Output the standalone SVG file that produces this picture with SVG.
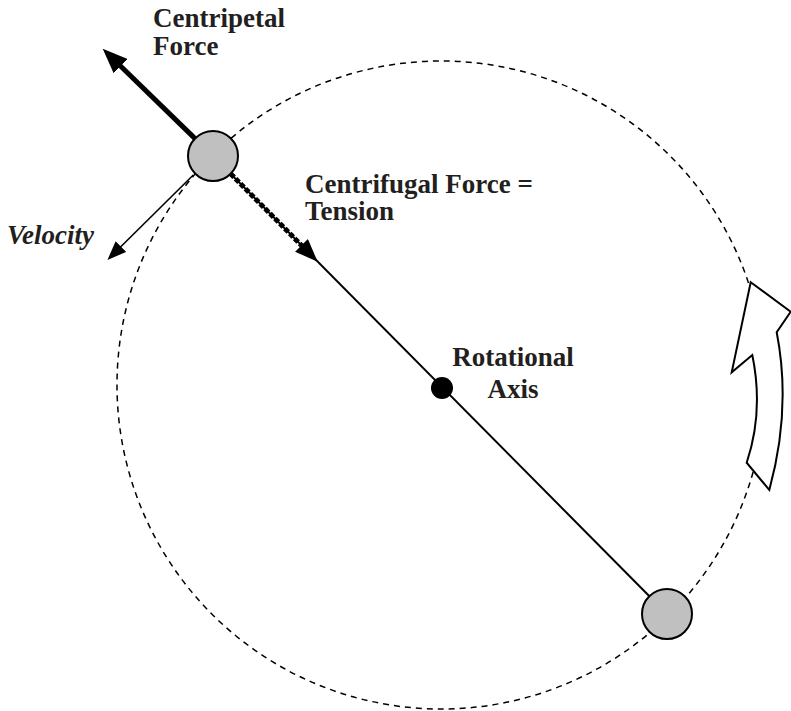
<svg xmlns="http://www.w3.org/2000/svg" width="791" height="711" viewBox="0 0 791 711">
<style>
.lbl{font-family:"Liberation Serif","Times New Roman",serif;font-size:27px;font-weight:bold;fill:#231f20}
.it{font-style:italic}
.ball{fill:#c0c0c0;stroke:#000;stroke-width:2}
</style>
<defs>
<marker id="headBig" viewBox="0 0 25 20" markerWidth="25" markerHeight="20" refX="2" refY="10" orient="auto" markerUnits="userSpaceOnUse">
<path d="M0,0 L25,10 L0,20 Z" fill="#000"/>
</marker>
<marker id="headMid" viewBox="0 0 23 18" markerWidth="23" markerHeight="18" refX="2" refY="9" orient="auto" markerUnits="userSpaceOnUse">
<path d="M0,0 L23,9 L0,18 Z" fill="#000"/>
</marker>
<marker id="headSmall" viewBox="0 0 19 15" markerWidth="19" markerHeight="15" refX="2" refY="7.5" orient="auto" markerUnits="userSpaceOnUse">
<path d="M0,0 L19,7.5 L0,15 Z" fill="#000"/>
</marker>
</defs>
<g id="orbit">
<circle cx="441" cy="385" r="324" fill="none" stroke="#000" stroke-width="1.5" stroke-dasharray="6 5"/>
</g>
<g id="connectors">
<line id="rod" x1="213" y1="156" x2="667" y2="614" stroke="#000" stroke-width="2"/>
<line id="centripetal" x1="195.1" y1="138.6" x2="119.2" y2="64.7" stroke="#000" stroke-width="5" marker-end="url(#headBig)"/>
<line id="centrifugal" x1="230.6" y1="173.8" x2="302.9" y2="246.8" stroke="#000" stroke-width="5" stroke-dasharray="5 2" marker-end="url(#headMid)"/>
<line id="velocity" x1="193.3" y1="175" x2="119.5" y2="248" stroke="#000" stroke-width="1.6" marker-end="url(#headSmall)"/>
</g>
<g id="rotation-arrow">
<path d="M750.7,282.3 L790.7,311.7 L776.7,332.3 Q791.6,408.8 769.3,490 L746.7,462.7 Q763.9,411.2 752.3,355 L731.7,372.3 Z" fill="#fff" stroke="#000" stroke-width="2" stroke-linejoin="miter"/>
</g>
<g id="ball-top">
<circle class="ball" cx="213" cy="156" r="25"/>
</g>
<g id="ball-bottom">
<circle class="ball" cx="667" cy="614" r="25"/>
</g>
<g id="axis">
<circle cx="442" cy="388" r="11" fill="#000"/>
</g>
<g id="labels">
<text class="lbl" x="153" y="27">Centripetal</text>
<text class="lbl" x="153" y="55">Force</text>
<text class="lbl" x="305" y="193">Centrifugal Force =</text>
<text class="lbl" x="305" y="220">Tension</text>
<text class="lbl" x="513" y="366" text-anchor="middle">Rotational</text>
<text class="lbl" x="513" y="398" text-anchor="middle">Axis</text>
<text class="lbl it" x="7" y="244">Velocity</text>
</g>
</svg>
